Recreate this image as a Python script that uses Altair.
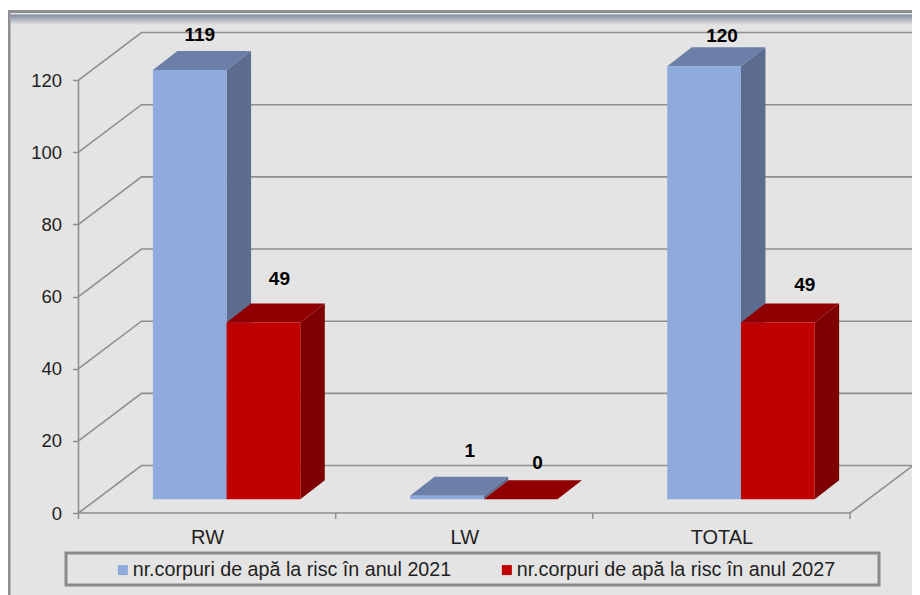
import altair as alt
import pandas as pd

categories = ["RW", "LW", "TOTAL"]
series_names = ["nr.corpuri de apă la risc în anul 2021", "nr.corpuri de apă la risc în anul 2027"]
values_2021 = [119, 1, 120]
values_2027 = [49, 0, 49]
y_ticks = [0, 20, 40, 60, 80, 100, 120]

# layout: one category = 257.17 px, one value unit = 3.608 px
PX_X, PX_Y = 257.17, 3.608
W, H = 904, 587
sx = alt.Scale(domain=[-70.5 / PX_X, (W - 70.5) / PX_X], range=[0, W], nice=False, zero=False)
sy = alt.Scale(domain=[-(H - 505) / PX_Y, 505 / PX_Y], range=[H, 0], nice=False, zero=False)

WALL_DX, WALL_DY = 63 / PX_X, 47.5 / PX_Y
BAR_W = 73.7 / PX_X
BASE_DX, BASE_DY = 19.5 / PX_X, 13.7 / PX_Y
DEP_DX, DEP_DY = 24.5 / PX_X, 19 / PX_Y
X_END = 3.0

FRONT = {series_names[0]: "#8faadc", series_names[1]: "#c00000"}
SIDE = {series_names[0]: "#5b6c8f", series_names[1]: "#7f0000"}
TOP = {series_names[0]: "#6c7fa8", series_names[1]: "#900000"}
LINE = "#8f8f8f"
TXT = "#1f1f1f"
FONT = "Liberation Sans"

# hand placed data labels in the reference (px right of bar centre, px above bar back edge)
label_nudge = {
    (0, 0): (10, 10), (0, 1): (16, 18.5),
    (1, 0): (23, 20), (1, 1): (17, 11),
    (2, 0): (18, 5), (2, 1): (27, 13),
}

front, side, top, labels = [], [], [], []
for s, vals in enumerate([values_2021, values_2027]):
    name = series_names[s]
    for i, v in enumerate(vals):
        c = i + 0.5 + BASE_DX
        x0 = c - BAR_W + s * BAR_W
        x1 = x0 + BAR_W
        h = BASE_DY + v
        front.append(dict(series=name, x=x0, x2=x1, y=BASE_DY, y2=h))
        side += [
            dict(key=f"{s}{i}", series=name, x=x1, y=BASE_DY, y2=h),
            dict(key=f"{s}{i}", series=name, x=x1 + DEP_DX, y=BASE_DY + DEP_DY, y2=h + DEP_DY),
        ]
        top += [
            dict(key=f"{s}{i}", series=name, y=h, x=x0, x2=x1),
            dict(key=f"{s}{i}", series=name, y=h + DEP_DY, x=x0 + DEP_DX, x2=x1 + DEP_DX),
        ]
        nx, ny = label_nudge[(i, s)]
        labels.append(dict(text=str(v), x=(x0 + x1) / 2 + nx / PX_X, y=h + DEP_DY + ny / PX_Y))

wall = []
for t in y_ticks:
    wall += [
        dict(key=f"d{t}", x=0, y=t),
        dict(key=f"d{t}", x=WALL_DX, y=t + WALL_DY),
        dict(key=f"d{t}", x=X_END + WALL_DX, y=t + WALL_DY),
    ]
wall += [
    dict(key="floor", x=0, y=0), dict(key="floor", x=X_END, y=0),
    dict(key="floor", x=X_END + WALL_DX, y=WALL_DY),
    dict(key="axis", x=0, y=0), dict(key="axis", x=0, y=120),
]
ticks = [dict(x=i, y=0, y2=-6 / PX_Y) for i in range(4)]

X = lambda f="x": alt.X(f"{f}:Q", scale=sx, axis=None)
Y = lambda f="y": alt.Y(f"{f}:Q", scale=sy, axis=None)
one = alt.Data(values=[{"a": 1}])

bg = alt.Chart(one).mark_rect(color="#e4e4e4").encode(
    x=alt.value(0), x2=alt.value(W), y=alt.value(2), y2=alt.value(H))
frame_top = alt.Chart(one).mark_rect(color="#8e8e8e").encode(
    x=alt.value(0), x2=alt.value(W), y=alt.value(2), y2=alt.value(5))
frame_left = alt.Chart(one).mark_rect(color="#8e8e8e").encode(
    x=alt.value(0), x2=alt.value(2.5), y=alt.value(2), y2=alt.value(H))
shade = alt.Chart(one).mark_rect(
    color=alt.Gradient(gradient="linear", x1=0, y1=0, x2=0, y2=1,
                       stops=[alt.GradientStop(offset=0, color="#7e899f"),
                              alt.GradientStop(offset=1, color="#e4e4e4")])
).encode(x=alt.value(2.5), x2=alt.value(W), y=alt.value(6.5), y2=alt.value(17))

grid = alt.Chart(pd.DataFrame(wall)).mark_line(color=LINE, strokeWidth=1.6).encode(
    x=X(), y=Y(), detail="key:N", order=alt.Order("o:Q")
).transform_window(o="row_number()", groupby=["key"])
tick_marks = alt.Chart(pd.DataFrame(ticks)).mark_rule(color=LINE, strokeWidth=1.5).encode(
    x=X(), y=Y(), y2="y2:Q")

axis_layer = alt.Chart(pd.DataFrame({"x": [0.5, 1.5, 2.5], "y": [0, 0, 0]})).mark_point(opacity=0).encode(
    x=alt.X("x:Q", scale=sx, title=None, axis=alt.Axis(
        values=[0.5, 1.5, 2.5], offset=-(H - 505), domain=False, ticks=False, grid=False,
        labelExpr=f"datum.value < 1 ? '{categories[0]}' : datum.value < 2 ? '{categories[1]}' : '{categories[2]}'",
        labelFontSize=20, labelColor=TXT, labelFont=FONT, labelPadding=14, zindex=1)),
    y=alt.Y("y:Q", scale=sy, title=None, axis=alt.Axis(
        values=y_ticks, offset=-70.5, domain=False, grid=False, tickSize=6, tickColor=LINE, tickWidth=1.5,
        labelFontSize=18.5, labelColor=TXT, labelFont=FONT, labelPadding=11, zindex=1)),
)

def faces(s):
    n = series_names[s]
    a = alt.Chart(pd.DataFrame([d for d in side if d["series"] == n])).mark_area(
        color=SIDE[n], orient="vertical").encode(x=X(), y=Y(), y2="y2:Q", detail="key:N")
    b = alt.Chart(pd.DataFrame([d for d in top if d["series"] == n])).mark_area(
        color=TOP[n], orient="horizontal").encode(y=Y(), x=X(), x2="x2:Q", detail="key:N")
    return [a, b]

fronts = alt.Chart(pd.DataFrame(front)).mark_rect().encode(
    x=X(), x2="x2:Q", y=Y(), y2="y2:Q",
    color=alt.Color("series:N", scale=alt.Scale(domain=series_names, range=[FRONT[n] for n in series_names]),
                    title=None,
                    legend=alt.Legend(orient="none", legendX=105, legendY=552, columns=2, columnPadding=45,
                                      symbolType="square", symbolSize=100, symbolStrokeWidth=0, padding=0,
                                      labelFontSize=19.7, labelFont=FONT, labelColor=TXT, labelLimit=500,
                                      labelOffset=0, zindex=1)),
)

value_text = alt.Chart(pd.DataFrame(labels)).mark_text(
    font=FONT, fontSize=19, fontWeight="bold", color="#000000", baseline="alphabetic", align="center"
).encode(x=X(), y=Y(), text="text:N")

legend_box = alt.Chart(one).mark_rect(fillOpacity=0, stroke="#8a8a8a", strokeWidth=3).encode(
    x=alt.value(58), x2=alt.value(871), y=alt.value(545), y2=alt.value(577))

chart = alt.layer(
    bg, shade, frame_top, frame_left, grid, tick_marks, axis_layer,
    *faces(0), *faces(1), fronts, value_text, legend_box
).resolve_scale(color="independent").resolve_axis(x="independent", y="independent").properties(
    width=W, height=H, padding=0, autosize="none", background="white"
).configure_view(strokeWidth=0)

chart.save("out.html", embed_options={"renderer": "svg", "actions": False})
